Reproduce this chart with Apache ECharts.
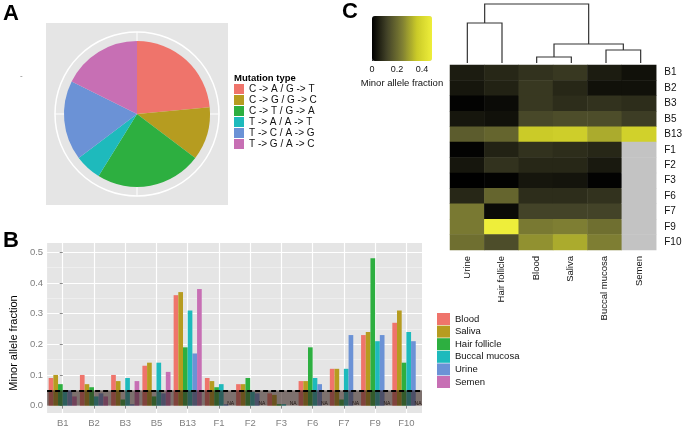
<!DOCTYPE html>
<html><head><meta charset="utf-8">
<script src="https://cdn.jsdelivr.net/npm/echarts@6/dist/echarts.min.js"></script>
<style>html,body{margin:0;padding:0;background:#fff}#c{width:685px;height:428px}</style>
</head><body><div id="c"></div>
<script>
// ---- Panel A data ----
const mutationTypes = ['C -> A / G -> T', 'C -> G / G -> C', 'C -> T / G -> A', 'T -> A / A -> T', 'T -> C / A -> G', 'T -> G / A -> C'];
const mutationCounts = [4, 2, 4, 1, 3, 3];
// ---- Panel B / C data ----
const samples = ['B1', 'B2', 'B3', 'B5', 'B13', 'F1', 'F2', 'F3', 'F6', 'F7', 'F9', 'F10'];
const tissues = ['Blood', 'Saliva', 'Hair follicle', 'Buccal mucosa', 'Urine', 'Semen'];
const blood        = [0.09, 0.10, 0.10, 0.13, 0.36, 0.09, 0.07, 0.04, 0.08, 0.12, 0.23, 0.27];
const saliva       = [0.10, 0.07, 0.08, 0.14, 0.37, 0.08, 0.07, 0.035, 0.08, 0.12, 0.24, 0.31];
const hairFollicle = [0.07, 0.06, 0.02, 0.03, 0.19, 0.06, 0.09, 0.005, 0.19, 0.02, 0.48, 0.14];
const buccalMucosa = [0.05, 0.03, 0.09, 0.14, 0.31, 0.07, 0.045, 0.005, 0.09, 0.12, 0.21, 0.24];
const urine        = [0.05, 0.04, 0.005, 0.04, 0.17, 0.005, 0.04, 0.0, 0.07, 0.23, 0.23, 0.21];
const semen        = [0.03, 0.03, 0.08, 0.11, 0.38, null, null, null, null, null, null, null];
const yTicks = [0, 0.1, 0.2, 0.3, 0.4, 0.5];
const yMinorTicks = [0.05, 0.15, 0.25, 0.35, 0.45];
const threshold = 0.05;
const heatmapColumns = ['Urine', 'Hair follicle', 'Blood', 'Saliva', 'Buccal mucosa', 'Semen'];
const colorbarTicks = [0, 0.2, 0.4];
const dendroMerges = [
  ['Blood', 'Saliva', 0.6],
  ['Buccal mucosa', 'Semen', 1.3],
  ['Urine', 'Hair follicle', 4.0],
  ['m0', 'm1', 1.9],
  ['m2', 'm3', 5.9]
];

const tissueValues = [blood, saliva, hairFollicle, buccalMucosa, urine, semen];
const palette = ['#ef746b', '#b69c20', '#2daf40', '#1ebabc', '#6b92d6', '#c76fb4'];
const FONT = '"Liberation Sans", Arial, sans-serif';

// heatmap data
const heatData = [], naData = [];
heatmapColumns.forEach((col, ci) => {
  const vals = tissueValues[tissues.indexOf(col)];
  samples.forEach((s, ri) => {
    if (vals[ri] == null) naData.push([ci, ri, 0]);
    else heatData.push([ci, ri, vals[ri]]);
  });
});
// dendrogram
const nodes = {};
heatmapColumns.forEach((c, i) => nodes[c] = {x: i, h: 0});
const dendroLines = [];
dendroMerges.forEach((m, i) => {
  const a = nodes[m[0]], b = nodes[m[1]], h = m[2];
  dendroLines.push({coords: [[a.x, a.h], [a.x, h], [b.x, h], [b.x, b.h]]});
  nodes['m' + i] = {x: (a.x + b.x) / 2, h: h};
});

const chart = echarts.init(document.getElementById('c'), null, {renderer: 'canvas'});
const barSeries = tissues.map((t, i) => ({
  name: t, type: 'bar', xAxisIndex: 0, yAxisIndex: 0,
  barGap: '0%', barCategoryGap: '10%',
  itemStyle: {color: palette[i]},
  data: tissueValues[i].map(v => v == null
    ? {value: 0, label: {show: true, formatter: 'NA', position: 'top', distance: 0, fontSize: 5, color: '#000'}}
    : v),
  z: 2
}));

const option = {
  animation: false,
  textStyle: {fontFamily: FONT},
  title: [
    {text: 'A', left: 3, top: 3, padding: 0, textStyle: {fontSize: 22, fontWeight: 'bold', color: '#000', fontFamily: FONT}},
    {text: 'B', left: 3, top: 230, padding: 0, textStyle: {fontSize: 22, fontWeight: 'bold', color: '#000', fontFamily: FONT}},
    {text: 'C', left: 342, top: 1, padding: 0, textStyle: {fontSize: 22, fontWeight: 'bold', color: '#000', fontFamily: FONT}},
    {text: 'Mutation type', left: 234, top: 73, padding: 0, textStyle: {fontSize: 9.5, fontWeight: 'bold', color: '#000', fontFamily: FONT}},
    {text: '-', left: 20, top: 72, padding: 0, textStyle: {fontSize: 8, fontWeight: 'normal', color: '#777', fontFamily: FONT}}
  ],
  graphic: [{type: 'rect', z: -10, silent: true, shape: {x: 46, y: 23, width: 182, height: 182}, style: {fill: '#e5e5e5'}}],
  legend: [
    {data: mutationTypes, orient: 'vertical', left: 234, top: 84, padding: 0, itemWidth: 10, itemHeight: 10, itemGap: 1,
     icon: 'rect', selectedMode: false, textStyle: {fontSize: 10, color: '#111', fontFamily: FONT}},
    {data: tissues, orient: 'vertical', left: 437, top: 313, padding: 0, itemWidth: 13, itemHeight: 12, itemGap: 0.6,
     icon: 'rect', selectedMode: false, textStyle: {fontSize: 9.5, color: '#111', fontFamily: FONT}}
  ],
  polar: {center: [137, 114], radius: 82},
  angleAxis: {type: 'value', min: 0, max: 360, interval: 90, startAngle: 90, z: 0,
    axisLine: {lineStyle: {color: '#fff', width: 1.5}}, axisTick: {show: false}, axisLabel: {show: false},
    splitLine: {lineStyle: {color: '#fff', width: 1}}},
  radiusAxis: {show: false, min: 0, max: 1},
  grid: [
    {left: 38, top: 243, width: 384, height: 170, show: true, backgroundColor: '#e5e5e5', borderWidth: 0},
    {left: 450, top: 65, width: 208, height: 185},
    {left: 450, top: 3, width: 208, height: 60},
    {left: 372, top: 16, width: 60, height: 45}
  ],
  xAxis: [
    {type: 'category', gridIndex: 0, data: samples, axisLine: {show: false},
     axisTick: {show: true, alignWithLabel: true, length: 3, lineStyle: {color: '#888'}},
     axisLabel: {fontSize: 9.5, color: '#7f7f7f', margin: 5}, splitLine: {show: false}},
    {type: 'value', gridIndex: 0, min: -0.5, max: 11.5, show: true, axisLine: {show: false},
     axisTick: {show: false, customValues: samples.map((s, i) => i)}, axisLabel: {show: false},
     splitLine: {show: true, lineStyle: {color: '#fff', width: 1.2}}},
    {type: 'category', gridIndex: 1, data: heatmapColumns, position: 'bottom', axisLine: {show: false}, axisTick: {show: false},
     axisLabel: {rotate: 90, fontSize: 9.5, color: '#111', margin: 6}},
    {type: 'value', gridIndex: 2, min: -0.5, max: 5.5, show: false},
    {type: 'value', gridIndex: 3, min: 0, max: 0.48, axisLine: {show: false},
     axisTick: {show: true, inside: true, length: 4, customValues: colorbarTicks, lineStyle: {color: '#222', width: 1}},
     axisLabel: {customValues: colorbarTicks, fontSize: 9, color: '#111', margin: 4, formatter: v => String(v)},
     splitLine: {show: false},
     name: 'Minor allele fraction', nameLocation: 'middle', nameGap: 17, nameTextStyle: {fontSize: 9.5, color: '#111'}}
  ],
  yAxis: [
    {type: 'value', gridIndex: 0, min: -0.024, max: 0.53, axisLine: {show: false},
     axisTick: {show: true, length: 3, customValues: yTicks, lineStyle: {color: '#888'}},
     axisLabel: {customValues: yTicks, fontSize: 9.5, color: '#7f7f7f', margin: 4, formatter: v => v.toFixed(1)},
     splitLine: {show: true, lineStyle: {color: '#fff', width: 1.2}},
     name: 'Minor allele fraction', nameLocation: 'middle', nameGap: 18,
     nameTextStyle: {fontSize: 11, color: '#000', padding: [0, 30, 0, 0]}},
    {type: 'value', gridIndex: 0, min: -0.024, max: 0.53, axisLine: {show: false},
     axisTick: {show: false, customValues: yMinorTicks}, axisLabel: {show: false},
     splitLine: {show: true, lineStyle: {color: '#f4f4f4', width: 0.6}}},
    {type: 'category', gridIndex: 1, data: samples, inverse: true, position: 'right', axisLine: {show: false}, axisTick: {show: false},
     axisLabel: {fontSize: 10, color: '#111', margin: 8}},
    {type: 'value', gridIndex: 2, min: 0, max: 6, show: false},
    {type: 'value', gridIndex: 3, min: 0, max: 1, show: false}
  ],
  visualMap: {
    type: 'continuous', seriesIndex: 8, min: 0, max: 0.48, orient: 'horizontal', calculable: false,
    left: 372, top: 16, padding: 0, itemWidth: 45, itemHeight: 60, text: null, showLabel: false,
    inRange: {color: ['#000000', '#434328', '#7e7e33', '#cbcb28', '#eeee3a']}
  },
  series: [
    ...barSeries,
    {name: 'threshold', type: 'line', xAxisIndex: 0, yAxisIndex: 0, data: samples.map(() => null), symbol: 'none', z: 6,
     markArea: {silent: true, z: 10, itemStyle: {color: 'rgba(55,35,30,0.6)'}, data: [[{yAxis: 0}, {yAxis: threshold}]]},
     markLine: {silent: true, z: 11, symbol: 'none', label: {show: false},
       lineStyle: {color: '#000', type: [5, 3], width: 1.8}, data: [{yAxis: threshold}]}},
    {name: 'Mutation type', type: 'pie', center: [137, 114], radius: 73, startAngle: 90, clockwise: true,
     label: {show: false}, labelLine: {show: false}, emphasis: {disabled: true}, z: 3,
     itemStyle: {borderWidth: 0},
     data: mutationTypes.map((n, i) => ({name: n, value: mutationCounts[i], itemStyle: {color: palette[i]}}))},
    {name: 'heat', type: 'heatmap', xAxisIndex: 2, yAxisIndex: 2, data: heatData, itemStyle: {borderWidth: 0}},
    {name: 'heatNA', type: 'heatmap', xAxisIndex: 2, yAxisIndex: 2, data: naData, itemStyle: {color: '#c3c3c3', borderWidth: 0}},
    {name: 'dendro', type: 'lines', coordinateSystem: 'cartesian2d', xAxisIndex: 3, yAxisIndex: 3, polyline: true,
     lineStyle: {color: '#333', width: 1.2, opacity: 1}, data: dendroLines}
  ]
};
chart.setOption(option);
</script></body></html>
